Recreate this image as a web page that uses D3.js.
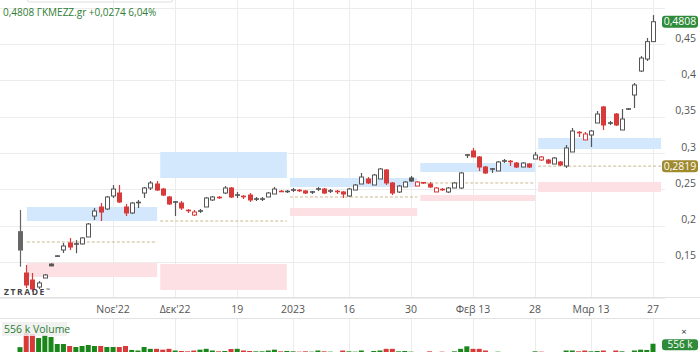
<!DOCTYPE html>
<html><head><meta charset="utf-8">
<script src="https://cdn.jsdelivr.net/npm/d3@7"></script>
<style>body{margin:0;background:#fff;} svg{display:block;font-family:"Open Sans",sans-serif;}</style>
</head><body><svg id="c" width="700" height="352"></svg>
<script>
// ---- DATA ----
const opens = [0.1916,0.1347,0.1250,0.1154,0.1278,0.1470,0.1580,0.1664,0.1760,0.1747,
0.1747,0.1843,0.2132,0.2256,0.2229,0.2408,0.2449,0.2256,0.2174,0.2318,
0.2449,0.2518,0.2573,0.2504,0.2394,0.2325,0.2311,0.2215,0.2146,0.2201,
0.2256,0.2353,0.2394,0.2449,0.2518,0.2421,0.2408,0.2421,0.2366,0.2366,
0.2394,0.2435,0.2477,0.2470,0.2490,0.2490,0.2477,0.2463,0.2504,0.2504,
0.2477,0.2477,0.2463,0.2408,0.2490,0.2573,0.2642,0.2559,0.2642,0.2766,
0.2587,0.2463,0.2532,0.2656,0.2545,0.2594,0.2573,0.2463,0.2504,0.2463,
0.2518,0.2518,0.2972,0.3028,0.2945,0.2807,0.2780,0.2752,0.2890,0.2890,
0.2862,0.2807,0.2848,0.2917,0.2904,0.2904,0.2848,0.2876,0.2821,0.3014,
0.3289,0.3180,0.3248,0.3413,0.3634,0.3413,0.3537,0.3317,0.3606,0.3799,
0.4129,0.4294,0.4534];
const highs = [0.2215,0.1457,0.1347,0.1237,0.1334,0.1480,0.1590,0.1760,0.1830,0.1800,
0.1840,0.2036,0.2242,0.2311,0.2408,0.2559,0.2559,0.2297,0.2325,0.2353,
0.2532,0.2614,0.2614,0.2518,0.2408,0.2339,0.2339,0.2229,0.2215,0.2229,
0.2394,0.2408,0.2408,0.2545,0.2532,0.2463,0.2421,0.2449,0.2394,0.2394,
0.2463,0.2532,0.2490,0.2490,0.2518,0.2504,0.2490,0.2477,0.2532,0.2518,
0.2504,0.2490,0.2477,0.2518,0.2573,0.2725,0.2669,0.2711,0.2793,0.2780,
0.2600,0.2559,0.2614,0.2683,0.2614,0.2600,0.2600,0.2532,0.2518,0.2532,
0.2600,0.2739,0.2986,0.3069,0.2959,0.2821,0.2793,0.2890,0.2917,0.2904,
0.2876,0.2876,0.2862,0.3014,0.2959,0.2917,0.2945,0.2890,0.3110,0.3344,
0.3303,0.3289,0.3317,0.3579,0.3648,0.3441,0.3551,0.3606,0.3620,0.3964,
0.4335,0.4584,0.4900];
const lows = [0.1434,0.1140,0.1085,0.1127,0.1278,0.1440,0.1570,0.1623,0.1664,0.1620,
0.1740,0.1843,0.2077,0.2063,0.2215,0.2380,0.2311,0.2132,0.2160,0.2242,
0.2380,0.2490,0.2477,0.2408,0.2284,0.2132,0.2215,0.2174,0.2132,0.2174,
0.2256,0.2339,0.2366,0.2435,0.2380,0.2380,0.2366,0.2325,0.2339,0.2339,
0.2394,0.2435,0.2463,0.2449,0.2463,0.2463,0.2435,0.2435,0.2477,0.2435,
0.2449,0.2435,0.2380,0.2394,0.2490,0.2573,0.2573,0.2559,0.2642,0.2559,
0.2421,0.2449,0.2532,0.2600,0.2545,0.2573,0.2518,0.2463,0.2477,0.2449,
0.2518,0.2504,0.2931,0.2945,0.2752,0.2711,0.2725,0.2752,0.2862,0.2821,
0.2793,0.2807,0.2793,0.2917,0.2890,0.2848,0.2848,0.2821,0.2793,0.3014,
0.3220,0.3180,0.3083,0.3413,0.3317,0.3386,0.3372,0.3317,0.3593,0.3620,
0.4115,0.4267,0.4534];
const closes = [0.1664,0.1182,0.1127,0.1210,0.1320,0.1445,0.1580,0.1719,0.1705,0.1747,
0.1830,0.2022,0.2201,0.2187,0.2394,0.2504,0.2325,0.2174,0.2311,0.2318,
0.2518,0.2587,0.2490,0.2421,0.2298,0.2325,0.2242,0.2201,0.2187,0.2201,
0.2380,0.2394,0.2380,0.2518,0.2394,0.2421,0.2394,0.2353,0.2366,0.2366,
0.2449,0.2504,0.2463,0.2470,0.2490,0.2477,0.2449,0.2463,0.2504,0.2449,
0.2477,0.2463,0.2435,0.2504,0.2559,0.2669,0.2587,0.2697,0.2780,0.2587,
0.2449,0.2545,0.2600,0.2614,0.2600,0.2587,0.2532,0.2518,0.2490,0.2518,
0.2587,0.2725,0.2972,0.2945,0.2807,0.2725,0.2780,0.2876,0.2890,0.2876,
0.2807,0.2862,0.2807,0.2972,0.2945,0.2862,0.2931,0.2835,0.3069,0.3303,
0.3275,0.3262,0.3303,0.3537,0.3386,0.3413,0.3386,0.3468,0.3606,0.3937,
0.4308,0.4534,0.4808];
const volumes = [350,1200,1140,900,1080,960,540,540,420,360,
420,480,420,420,360,360,360,420,180,150,
360,250,250,200,250,150,120,100,150,200,
250,150,100,120,240,250,150,120,100,100,
150,200,100,120,100,80,100,80,150,100,
80,60,150,100,80,150,60,120,150,250,
250,100,120,80,60,50,100,60,80,60,
100,250,400,250,250,150,60,80,60,50,
60,60,50,100,80,60,50,60,150,150,
100,150,100,120,150,60,150,100,60,150,
200,180,556];
// x-axis ticks (candle index -> label)
const tickIdx = [15,25,35,44,53,63,73,83,92,102];
const tickLabels = ["Νοε'22","Δεκ'22","19","2023","16","30","Φεβ 13","28","Μαρ 13","27"];
const yTicks = [0.15,0.2,0.25,0.3,0.35,0.4,0.45];
const yGrid = [0.1,0.15,0.2,0.25,0.3,0.35,0.4,0.45,0.5];
// ZTRADE zones per period (candle index ranges)
const zoneStart = [1.1,22.6,43.5,64.5,83.5];
const zoneEnd   = [22.1,43.0,64.0,83.0,103.3];
const resTop = [0.2256,0.3014,0.2656,0.2862,0.3207];
const resBot = [0.2063,0.2656,0.2532,0.2738,0.3055];
const supTop = [0.1485,0.1471,0.2242,0.2421,0.2601];
const supBot = [0.1292,0.1113,0.2132,0.2339,0.2463];
const pivot  = [0.1774,0.2063,0.2394,0.2587,0.2819];
const lastPrice = 0.4808, change = 0.0274, changePct = 6.04, symbol = "ΓΚΜΕΖΖ.gr";
const lastPivot = 0.2819, lastVolK = 556;

// ---- CHART ----
const svg = d3.select("#c");
const fmt = v => String(+v.toFixed(4)).replace(".", ",");
const x = d3.scaleLinear().domain([0,102]).range([20,653]);
const y = d3.scaleLinear().domain([0.1,0.5]).range([298.2,7.8]);
const yv = d3.scaleLinear().domain([0,1500]).range([353,328]);
const plotRight = 665;
const UP = "#555", DOWN = "#d83a3a", GUP = "#1b871b";

const grid = svg.append("g").attr("stroke","#ececec").attr("stroke-width",1);
yGrid.forEach(v => grid.append("line").attr("x1",0).attr("x2",plotRight)
  .attr("y1",Math.round(y(v))+0.5).attr("y2",Math.round(y(v))+0.5));
tickIdx.forEach(i => {
  const xx = Math.round(x(i))+0.5;
  grid.append("line").attr("x1",xx).attr("x2",xx).attr("y1",0).attr("y2",298);
  grid.append("line").attr("x1",xx).attr("x2",xx).attr("y1",319).attr("y2",352);
});
svg.append("line").attr("x1",0).attr("x2",700).attr("y1",297.5).attr("y2",297.5).attr("stroke","#e2e2e2");
svg.append("line").attr("x1",0).attr("x2",700).attr("y1",318.5).attr("y2",318.5).attr("stroke","#e2e2e2");

// zones
const zg = svg.append("g");
zoneStart.forEach((s,k) => {
  const x0 = x(s), x1 = x(zoneEnd[k]);
  zg.append("rect").attr("x",x0).attr("width",x1-x0).attr("y",y(resTop[k])).attr("height",y(resBot[k])-y(resTop[k])).attr("fill","#d3e8fc");
  zg.append("rect").attr("x",x0).attr("width",x1-x0).attr("y",y(supTop[k])).attr("height",y(supBot[k])-y(supTop[k])).attr("fill","#fde0e4");
  zg.append("line").attr("x1",x0).attr("x2",k===zoneStart.length-1?plotRight:x1)
    .attr("y1",y(pivot[k])).attr("y2",y(pivot[k])).attr("stroke","#c9b98e").attr("stroke-dasharray","3,2");
});

// candles
const bw = 4;
const cg = svg.append("g");
closes.forEach((c,i) => {
  const o = opens[i], up = i===0 || c >= closes[i-1];
  const col = i===0 ? "#666" : (up ? UP : DOWN);
  const xx = Math.round(x(i)) + 0.5;
  const top = Math.max(o,c), bot = Math.min(o,c);
  const yt = y(top), yb = y(bot);
  cg.append("line").attr("x1",xx).attr("x2",xx).attr("y1",y(highs[i])).attr("y2",y(lows[i])).attr("stroke",col).attr("stroke-width",1.2);
  if (yb - yt < 1.5) {
    cg.append("rect").attr("x",xx-bw/2-0.5).attr("width",bw+1).attr("y",(yt+yb)/2-0.8).attr("height",1.6).attr("fill",col);
  } else {
    cg.append("rect").attr("x",xx-bw/2).attr("width",bw).attr("y",yt).attr("height",yb-yt)
      .attr("fill", c > o ? "#fff" : col).attr("stroke",col).attr("stroke-width",1);
  }
});

// volume
const vg = svg.append("g");
volumes.forEach((v,i) => {
  const up = i===0 || closes[i] >= closes[i-1];
  vg.append("rect").attr("x",x(i)-2.5).attr("width",5).attr("y",yv(v)).attr("height",yv(0)-yv(v)).attr("fill",up?GUP:DOWN);
});

// axis labels
const ax = svg.append("g").attr("font-size","10.5px").attr("fill","#555");
yTicks.forEach(v => ax.append("text").attr("x",696).attr("y",y(v)-2.5).attr("text-anchor","end").text(fmt(v)));
tickIdx.forEach((i,k) => ax.append("text").attr("x",x(i)).attr("y",313).attr("text-anchor","middle").text(tickLabels[k]));

// price label boxes
function tag(yc, txt, fill, h) {
  h = h || 12;
  svg.append("rect").attr("x",662).attr("y",yc-h/2).attr("width",36).attr("height",h).attr("rx",3).attr("fill",fill);
  svg.append("text").attr("x",680).attr("y",yc+3.6).attr("text-anchor","middle").attr("font-size",h<12?"10px":"10.5px").attr("fill","#fff").text(txt);
}
tag(y(lastPrice), fmt(lastPrice), "#2e8b3a");
tag(y(lastPivot), fmt(lastPivot), "#a08a2e");
tag(yv(lastVolK)+1, lastVolK + " k", "#2e8b3a", 11);
svg.append("text").attr("x",684).attr("y",334.5).attr("text-anchor","middle").attr("font-size","9.5px").attr("fill","#333").text("×");

// header
svg.append("rect").attr("x",27).attr("y",-10).attr("width",146).attr("height",12).attr("rx",3).attr("fill","none").attr("stroke","#ddd");
svg.append("text").attr("x",3).attr("y",16).attr("font-size","10px").attr("fill","#2e7d32")
  .text(fmt(lastPrice) + " " + symbol + " +" + fmt(change) + " " + String(changePct.toFixed(2)).replace(".",",") + "%");
// volume legend
svg.append("rect").attr("x",2).attr("y",322).attr("width",65).attr("height",14).attr("fill","#eeeeee").attr("opacity",0.85);
svg.append("text").attr("x",4).attr("y",333).attr("font-size","10.5px").attr("fill","#2e7d32").text(lastVolK + " k Volume");
// logo
const logo = svg.append("text").attr("x",4).attr("y",295).attr("font-size","8.5px").attr("font-weight","700").attr("letter-spacing","1.6px").attr("fill","#444");
logo.append("tspan").text("ZTRADE");
logo.append("tspan").attr("font-size","5px").attr("dy",-3).attr("letter-spacing","0").text("™");
</script></body></html>
